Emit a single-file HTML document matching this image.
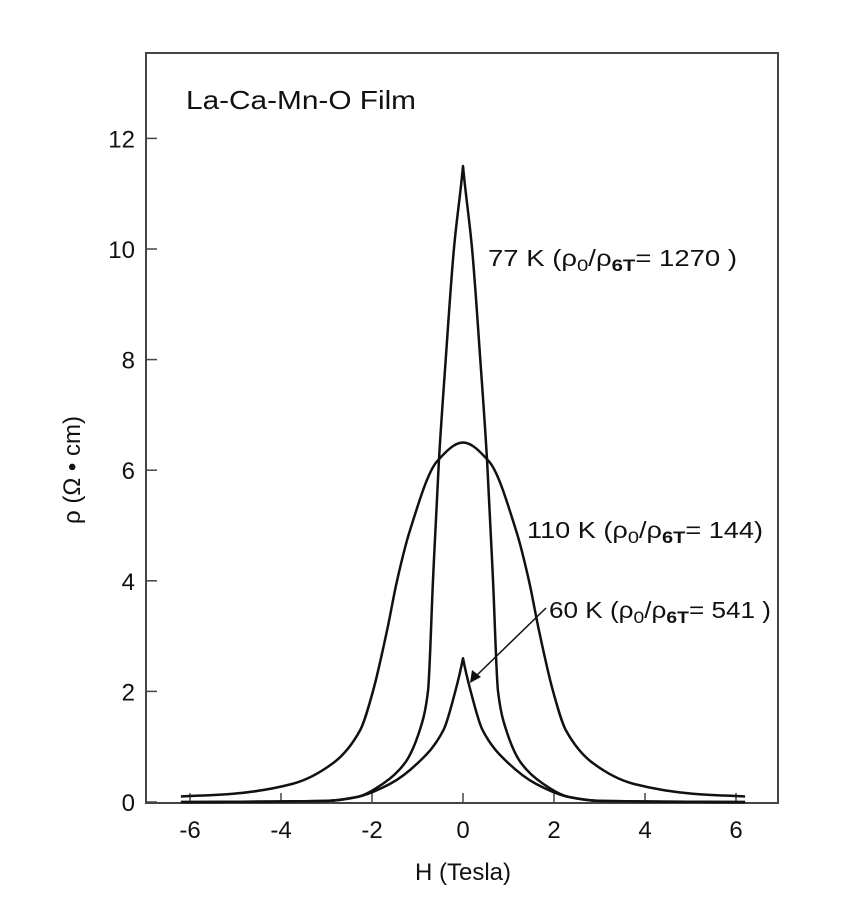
<!DOCTYPE html>
<html><head><meta charset="utf-8"><style>
body{margin:0;background:#fff}
svg{display:block;font-family:"Liberation Sans",sans-serif}
</style></head><body>
<svg id="chart" width="862" height="910">
<rect x="146" y="53" width="632" height="750" fill="none" stroke="#444" stroke-width="2"/>
<g id="ticks"></g>
<g id="curves"></g>
<text x="186" y="109" font-size="26" fill="#111" textLength="230" lengthAdjust="spacingAndGlyphs">La-Ca-Mn-O Film</text>
<text x="463" y="880" font-size="24" text-anchor="middle" fill="#111">H (Tesla)</text>
<text transform="translate(80,470) rotate(-90)" font-size="24" text-anchor="middle" fill="#111">ρ (Ω • cm)</text>
<text x="488" y="266" font-size="23" fill="#111" textLength="249" lengthAdjust="spacingAndGlyphs">77 K (ρ<tspan font-size="17" dy="5">0</tspan><tspan dy="-5">/ρ</tspan><tspan font-size="17" font-weight="bold" dy="5">6T</tspan><tspan dy="-5">= 1270 )</tspan></text>
<text x="527" y="538" font-size="23" fill="#111" textLength="236" lengthAdjust="spacingAndGlyphs">110 K (ρ<tspan font-size="17" dy="5">0</tspan><tspan dy="-5">/ρ</tspan><tspan font-size="17" font-weight="bold" dy="5">6T</tspan><tspan dy="-5">= 144)</tspan></text>
<text x="549" y="618" font-size="23" fill="#111" textLength="222" lengthAdjust="spacingAndGlyphs">60 K (ρ<tspan font-size="17" dy="5">0</tspan><tspan dy="-5">/ρ</tspan><tspan font-size="17" font-weight="bold" dy="5">6T</tspan><tspan dy="-5">= 541 )</tspan></text>
<line x1="546" y1="608" x2="474" y2="678" stroke="#111" stroke-width="1.5"/>
<polygon points="470,683 472,670 481,677" fill="#111"/>
</svg>
<script>
const field77K = [0, 0.2, 0.38, 0.53, 0.66, 0.77, 0.95, 1.28, 1.76, 2.33, 3, 6.2];
const rho77K   = [11.5, 10, 8, 6.16, 4, 2, 1.3, 0.7, 0.33, 0.09, 0.02, 0];
const field110K = [0, 0.57, 1.17, 1.45, 1.67, 1.98, 2.26, 2.86, 3.74, 5.05, 6.2];
const rho110K   = [6.5, 6.16, 4.9, 4, 3.1, 2, 1.3, 0.7, 0.33, 0.15, 0.1];
const field60K = [0, 0.17, 0.43, 1.0, 1.6, 2.33, 3, 6.2];
const rho60K   = [2.6, 2.0, 1.3, 0.7, 0.33, 0.09, 0.02, 0];
const xTicks = [-6, -4, -2, 0, 2, 4, 6];
const yTicks = [0, 2, 4, 6, 8, 10, 12];

const NS = "http://www.w3.org/2000/svg";
const xs = v => 463 + v * 45.5;
const ys = v => 802 - v * 55.3;
const tg = document.getElementById('ticks');
function mk(tag, attrs, parent){const e=document.createElementNS(NS,tag);for(const k in attrs)e.setAttribute(k,attrs[k]);parent.appendChild(e);return e;}
xTicks.forEach(t=>{
  const l=mk('line',{x1:xs(t),x2:xs(t),y1:803,y2:793,stroke:'#444','stroke-width':1.5},tg);
  
  
  const tx=mk('text',{x:xs(t),y:838,'font-size':24,'text-anchor':'middle',fill:'#111'},tg);
  tx.textContent=t;
  
  
});
yTicks.forEach(t=>{
  const l=mk('line',{x1:146,x2:157,y1:ys(t),y2:ys(t),stroke:'#444','stroke-width':1.5},tg);
  
  
  const tx=mk('text',{x:135,y:ys(t)+9,'font-size':24,'text-anchor':'end',fill:'#111'},tg);
  tx.textContent=t;
  
  
});
// monotone cubic (Fritsch-Carlson) for one side, mirrored
function pathFor(hs, vals, smoothTop){
  const X=[],Y=[];
  for(let i=hs.length-1;i>0;i--){X.push(-hs[i]);Y.push(vals[i]);}
  for(let i=0;i<hs.length;i++){X.push(hs[i]);Y.push(vals[i]);}
  const n=X.length, d=[], m=[];
  for(let i=0;i<n-1;i++)d.push((Y[i+1]-Y[i])/(X[i+1]-X[i]));
  m[0]=d[0];m[n-1]=d[n-2];
  for(let i=1;i<n-1;i++){
    if(d[i-1]*d[i]<=0){m[i]=0;}
    else{const w1=2*(X[i+1]-X[i])+(X[i]-X[i-1]),w2=(X[i+1]-X[i])+2*(X[i]-X[i-1]);m[i]=(w1+w2)/(w1/d[i-1]+w2/d[i]);}
  }
  const c=hs.length-1;
  if(!smoothTop){ m[c]=0; }
  let p='M'+xs(X[0])+','+ys(Y[0]);
  for(let i=0;i<n-1;i++){
    const h=X[i+1]-X[i];
    let m0=m[i],m1=m[i+1];
    if(!smoothTop){ if(i+1===c) m1=d[i]*1.2; if(i===c) m0=d[i]*1.2; }
    p+=` C${xs(X[i]+h/3)},${ys(Y[i]+m0*h/3)} ${xs(X[i+1]-h/3)},${ys(Y[i+1]-m1*h/3)} ${xs(X[i+1])},${ys(Y[i+1])}`;
  }
  return p;
}
const cg=document.getElementById('curves');
[['curve-77k',field77K,rho77K,false],['curve-110k',field110K,rho110K,true],['curve-60k',field60K,rho60K,false]].forEach(([n,h,v,s])=>{
  const p=mk('path',{d:pathFor(h,v,s),fill:'none',stroke:'#111','stroke-width':2.5,'stroke-linejoin':'round'},cg);
  
  
});
</script>
</body></html>
